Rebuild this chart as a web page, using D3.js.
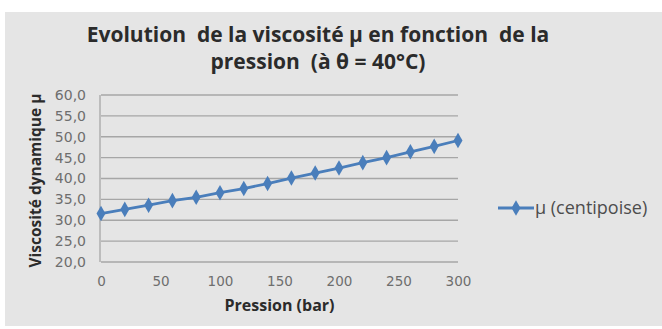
<!DOCTYPE html>
<html>
<head>
<meta charset="utf-8">
<script src="https://cdn.jsdelivr.net/npm/d3@7"></script>
<style>
  html, body { margin: 0; padding: 0; background: #fff; }
  svg { display: block; }
  text { font-family: "Open Sans", sans-serif; }
</style>
</head>
<body>
<svg id="chart" width="662" height="329"></svg>
<script>
// pression (bar) et viscosité (cP)
const pressions = [0, 20, 40, 60, 80, 100, 120, 140, 160, 180, 200, 220, 240, 260, 280, 300];
const viscosites = [31.6, 32.6, 33.6, 34.7, 35.5, 36.6, 37.6, 38.8, 40.1, 41.3, 42.5, 43.8, 45.0, 46.4, 47.7, 49.1];
const xTicks = [0, 50, 100, 150, 200, 250, 300];
const yTicks = [20, 25, 30, 35, 40, 45, 50, 55, 60];
const titleLines = ['Evolution  de la viscosité µ en fonction  de la', 'pression  (à θ = 40°C)'];
const serieName = 'µ (centipoise)';

const svg = d3.select('#chart');
const plot = { left: 101, right: 458, top: 95, bottom: 262 };
const blue = '#4a7ebb';

// fond gris du graphique
svg.append('rect')
  .attr('x', 5).attr('y', 12)
  .attr('width', 657).attr('height', 314)
  .attr('fill', '#e5e5e5');

const x = d3.scaleLinear([0, 300], [plot.left, plot.right]);
const y = d3.scaleLinear([20, 60], [plot.bottom, plot.top]);
const fmt = v => d3.format('.1f')(v).replace('.', ',');

// grille horizontale
svg.append('g')
  .selectAll('line')
  .data(yTicks)
  .join('line')
  .attr('x1', plot.left).attr('x2', plot.right)
  .attr('y1', d => y(d)).attr('y2', d => y(d))
  .attr('stroke', '#a6a6a6')
  .attr('stroke-width', 1.3);

// axe vertical
svg.append('line')
  .attr('x1', plot.left - 1).attr('x2', plot.left - 1)
  .attr('y1', plot.top).attr('y2', plot.bottom)
  .attr('stroke', '#a6a6a6')
  .attr('stroke-width', 1.3);

const yAxis = svg.append('g')
  .attr('transform', `translate(${plot.left - 1},0)`)
  .call(d3.axisLeft(y).tickValues(yTicks).tickFormat(fmt).tickSize(0).tickPadding(14));
yAxis.select('.domain').remove();
yAxis.selectAll('text')
  .attr('fill', '#6e6e6e')
  .style('font-size', '14px')
  .style('font-family', '"DejaVu Sans", sans-serif');

const xAxis = svg.append('g')
  .attr('transform', `translate(0,${plot.bottom})`)
  .call(d3.axisBottom(x).tickValues(xTicks).tickSize(0).tickPadding(14));
xAxis.select('.domain').remove();
xAxis.selectAll('text')
  .attr('fill', '#6e6e6e')
  .style('font-size', '13.5px')
  .style('font-family', '"DejaVu Sans", sans-serif');

// série
const points = pressions.map((p, i) => ({ p, v: viscosites[i] }));
const line = d3.line().x(d => x(d.p)).y(d => y(d.v));

svg.append('path')
  .datum(points)
  .attr('d', line)
  .attr('fill', 'none')
  .attr('stroke', blue)
  .attr('stroke-width', 2.8);

const diamond = d3.symbol(d3.symbolDiamond, 70);
svg.append('g')
  .selectAll('path')
  .data(points)
  .join('path')
  .attr('d', diamond)
  .attr('transform', d => `translate(${x(d.p)},${y(d.v)})`)
  .attr('fill', blue);

// titres
svg.append('g')
  .selectAll('text')
  .data(titleLines)
  .join('text')
  .attr('x', 318)
  .attr('y', (d, i) => 42 + i * 27)
  .attr('text-anchor', 'middle')
  .attr('fill', '#2b2b2b')
  .style('font-size', '21px')
  .style('font-weight', 'bold')
  .style('white-space', 'pre')
  .text(d => d);

svg.append('text')
  .attr('x', (plot.left + plot.right) / 2)
  .attr('y', 311)
  .attr('text-anchor', 'middle')
  .attr('fill', '#2b2b2b')
  .style('font-size', '16px')
  .style('font-weight', 'bold')
  .text('Pression (bar)');

svg.append('text')
  .attr('transform', `translate(41,${(plot.top + plot.bottom) / 2 + 2}) rotate(-90)`)
  .attr('text-anchor', 'middle')
  .attr('fill', '#2b2b2b')
  .style('font-size', '15.5px')
  .style('font-weight', 'bold')
  .text('Viscosité dynamique µ');

// légende
const legend = svg.append('g').attr('transform', 'translate(498,208)');
legend.append('line')
  .attr('x1', 0).attr('x2', 36)
  .attr('stroke', blue).attr('stroke-width', 2.8);
legend.append('path')
  .attr('d', diamond)
  .attr('transform', 'translate(18,0)')
  .attr('fill', blue);
legend.append('text')
  .attr('x', 37).attr('y', 6)
  .attr('fill', '#4d4d4d')
  .style('font-size', '18px')
  .text(serieName);
</script>
</body>
</html>
